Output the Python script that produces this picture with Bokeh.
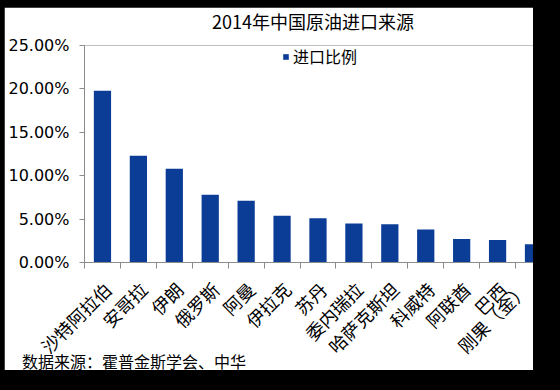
import math
from bokeh.plotting import figure
from bokeh.layouts import column
from bokeh.models import (ColumnDataSource, FixedTicker, NumeralTickFormatter, Div,
                          Legend, LegendItem, GlobalInlineStyleSheet, Range1d)
from bokeh.embed import file_html
from bokeh.resources import INLINE

title_text = "2014年中国原油进口来源"
series_name = "进口比例"
source_note = "数据来源：霍普金斯学会、中华"
countries = ["沙特阿拉伯", "安哥拉", "伊朗", "俄罗斯", "阿曼", "伊拉克", "苏丹",
             "委内瑞拉", "哈萨克斯坦", "科威特", "阿联酋", "巴西", "刚果（金）"]
shares = [0.198, 0.123, 0.108, 0.078, 0.071, 0.054, 0.051,
          0.045, 0.044, 0.038, 0.027, 0.026, 0.021]
y_ticks = [0.0, 0.05, 0.10, 0.15, 0.20, 0.25]

CJK = "Noto Sans CJK SC"
BAR = "#0B3C96"
AXIS = "#8C8C8C"

n = len(countries)
xs = list(range(n))
src = ColumnDataSource(dict(x=xs, share=shares, name=countries))

p = figure(width=529, height=363, output_backend="svg", toolbar_location=None,
           x_range=Range1d(-0.5, 12.0), y_range=Range1d(0, 0.25),
           min_border_left=80, min_border_right=0, min_border_top=38,
           min_border_bottom=107)
p.outline_line_color = None
p.background_fill_color = "white"
p.border_fill_color = "white"
p.xgrid.visible = False
p.ygrid.visible = False

r = p.vbar(x="x", top="share", width=0.48, bottom=0, source=src,
           fill_color=BAR, line_color=None)

# y axis
ya = p.yaxis[0]
ya.ticker = FixedTicker(ticks=y_ticks)
ya.formatter = NumeralTickFormatter(format="0.00%")
ya.axis_line_color = AXIS
ya.major_tick_line_color = AXIS
ya.major_tick_out = 5
ya.major_tick_in = 0
ya.minor_tick_line_color = None
ya.major_label_standoff = 10
ya.major_label_text_font = "DejaVu Sans"
ya.major_label_text_font_size = "16px"
ya.major_label_text_color = "black"

# x axis: boundary ticks as minor ticks, names on (hidden) major ticks
label_pos = [i + 0.14 for i in xs[:-1]] + [float(xs[-1])]
xa = p.xaxis[0]
xa.ticker = FixedTicker(ticks=label_pos, minor_ticks=[i - 0.5 for i in range(n + 1)])
xa.bounds = (-0.5, n - 0.5)
xa.major_label_overrides = {t: c for t, c in zip(label_pos, countries)}
xa.axis_line_color = AXIS
xa.major_tick_line_color = None
xa.minor_tick_line_color = AXIS
xa.minor_tick_out = 6
xa.minor_tick_in = 0
xa.major_label_orientation = math.pi / 4
xa.major_label_standoff = 17
xa.major_label_text_font = CJK
xa.major_label_text_font_size = "18px"
xa.major_label_text_color = "black"

# legend
legend = Legend(items=[LegendItem(label=series_name, renderers=[r])],
                location=(198, 194), orientation="vertical",
                glyph_width=7, glyph_height=7, label_standoff=4,
                padding=0, margin=0, spacing=0,
                border_line_color=None, background_fill_alpha=0,
                label_text_font=CJK, label_text_font_size="16px",
                label_text_color="black")
p.add_layout(legend, "center")

# source note over the bottom strip, title over the top strip
note = Div(text=source_note, width=300, height=23,
           styles={"margin-top": "-20px", "margin-left": "18px",
                   "font-family": CJK, "font-size": "16px", "color": "black",
                   "line-height": "23px"})
head = Div(text=title_text, width=260, height=26,
           styles={"margin-top": "-370px", "margin-left": "208px",
                   "font-family": CJK, "font-size": "18px", "color": "black",
                   "line-height": "26px"})

layout = column(p, note, head, spacing=0)
layout.stylesheets = [GlobalInlineStyleSheet(css="body{background:#000;margin:7px 0 0 4px;}")]

open("out.html", "w").write(file_html(layout, INLINE))
